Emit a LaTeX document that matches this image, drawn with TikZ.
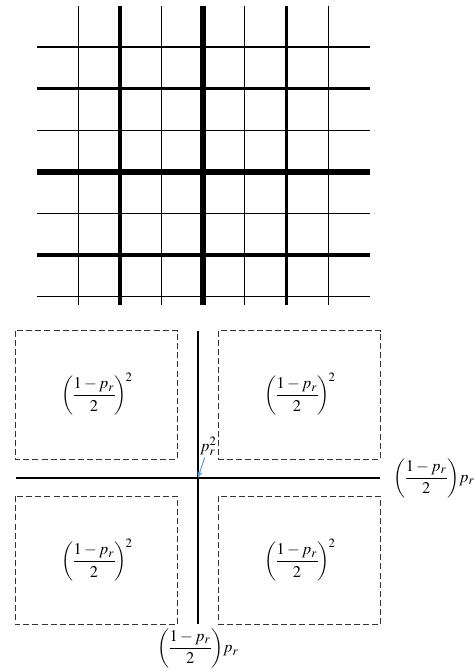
\documentclass[tikz,border=0pt]{standalone}
\usepackage{amsmath}
\usepackage{mathptmx}
\usepackage{tikz}
\usetikzlibrary{arrows.meta}
\definecolor{arrowblue}{RGB}{91,155,213}
\newcommand{\halfterm}{\left(\!\dfrac{1-p_r}{2}\!\right)}

\begin{document}
\begin{tikzpicture}[x=0.55pt,y=-0.55pt,
    every node/.style={font=\fontsize{9}{10}\selectfont},
    cellbox/.style={draw=black!80, line width=0.5pt, dash pattern=on 3.3pt off 1.7pt},
    axis/.style={line width=1pt},
    hint/.style={->, arrowblue, line width=0.5pt, >={Stealth[length=3.5pt,width=3pt]}}]
\useasboundingbox (0,0) rectangle (473,671);

% Top grid: thin, thick and very thick lines
\foreach \k/\w in {0/0.6pt,1/1.8pt,2/0.6pt,3/3.4pt,4/0.6pt,5/1.8pt,6/0.6pt} {
    \draw[line width=\w] (78.5+41.6*\k, 5.7) -- (78.5+41.6*\k, 305);
    \draw[line width=\w] (37, 47+41.6*\k) -- (370, 47+41.6*\k);
}

% Dashed boxes
\foreach \x in {15.3, 218.7} {
    \foreach \y in {330.7, 496.3} {
        \draw[cellbox] (\x,\y) rectangle ++(162,128.3);
    }
}

% Box labels
\node (tl) at (97,394) {$\halfterm^{\!2}$};
\node (tr) at (300,394) {$\halfterm^{\!2}$};
\node (bl) at (97,560) {$\halfterm^{\!2}$};
\node (br) at (300,560) {$\halfterm^{\!2}$};

% Crossing lines
\coordinate (cross) at (198,477.7);
\draw[axis] (198,331) -- (198,624.3);
\draw[axis] (15.7,477.7) -- (380.3,477.7);

% Line labels
\node[right, inner sep=0pt] (pright) at (393,478) {$\halfterm\!p_r$};
\node[inner sep=0pt] (pbottom) at (198,648.5) {$\halfterm\!p_r$};
\node[inner sep=1pt] (pcross) at (208.5,446) {$p_r^2$};
\draw[hint] (pcross) -- (cross);

\end{tikzpicture}
\end{document}
